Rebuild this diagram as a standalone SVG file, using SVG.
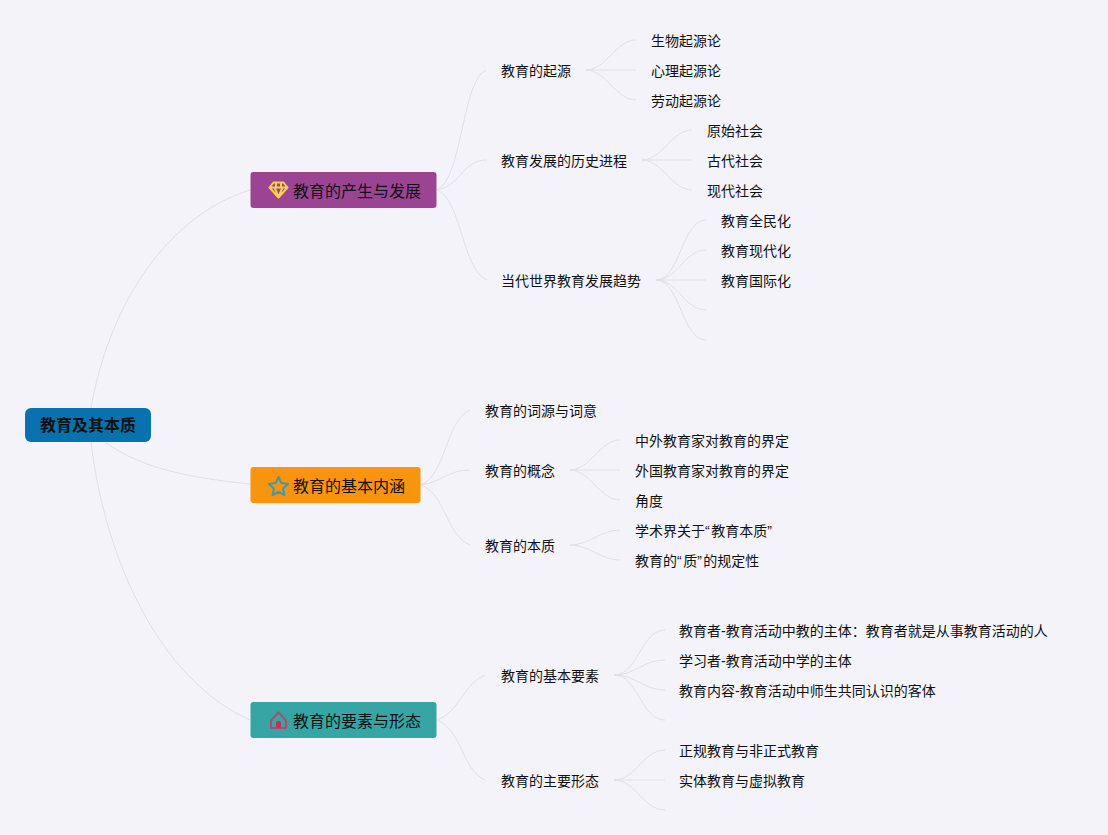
<svg xmlns="http://www.w3.org/2000/svg" width="1108" height="835" viewBox="0 0 1108 835">
<style>
text{font-family:"Liberation Sans","Noto Sans CJK SC",sans-serif;fill:#111}
.r{font-size:16px;font-weight:700}
.m{font-size:16px}
.s{font-size:14px}
.q{letter-spacing:1.500px}
.c path{fill:none;stroke:#e0e0e4;stroke-width:1}
</style>
<rect width="1108" height="835" fill="#f4f3fa"/>
<g id="connectors" class="c">
<path d="M91 408C110 300 170 215 250 190"/>
<path d="M105 442C140 468 190 478 250 484"/>
<path d="M91 442C105 560 160 680 250 720"/>
<path d="M437 190C462 180 462 80 486 70"/>
<path d="M437 190C462 185 462 160 487 160"/>
<path d="M437 190C462 200 462 270 487 280"/>
<path d="M586 70C606 70 616 40 636 40"/><path d="M586 70H636"/><path d="M586 70C606 70 616 100 636 100"/>
<path d="M642 160C662 160 672 130 692 130"/><path d="M642 160H692"/><path d="M642 160C662 160 672 190 692 190"/>
<path d="M656 280C680 280 682 220 706 220"/><path d="M656 280C678 280 684 250 706 250"/><path d="M656 280H706"/><path d="M656 280C678 280 684 310 706 310"/><path d="M656 280C680 280 682 340 706 340"/>
<path d="M421 485C446 475 446 420 470 410"/>
<path d="M421 485C442 482 448 470 470 470"/>
<path d="M421 485C446 495 446 535 470 545"/>
<path d="M570 470C590 470 600 440 620 440"/><path d="M570 470H620"/><path d="M570 470C590 470 600 500 620 500"/>
<path d="M570 545C590 545 600 530 620 530"/><path d="M570 545C590 545 600 560 620 560"/>
<path d="M437 720C460 712 462 685 485 675"/>
<path d="M437 720C462 730 462 770 485 780"/>
<path d="M614 675C638 675 641 630 665 630"/><path d="M614 675C636 675 643 660 665 660"/><path d="M614 675C636 675 643 690 665 690"/><path d="M614 675C638 675 641 720 665 720"/>
<path d="M614 780C636 780 643 750 665 750"/><path d="M614 780H665"/><path d="M614 780C636 780 643 810 665 810"/>
</g>
<g id="root"><rect x="25" y="408" width="126" height="34" rx="6" fill="#0872ae"/><text class="r" x="40" y="431">教育及其本质</text></g>
<g id="n1"><rect x="250.500" y="172" width="186" height="36" rx="3" fill="#9c4494"/>
<path d="M273.500 182.500H283.500L287.500 187.500L278.500 197.500L269.500 187.500ZM269.500 187.500H287.500M274.500 187.500L278.500 197L282.500 187.500M276 182.500V187.500M281 182.500V187.500" fill="none" stroke="#f9d14d" stroke-width="2" stroke-linejoin="round"/>
<text class="m" x="293" y="197">教育的产生与发展</text></g>
<g id="n2"><rect x="250.500" y="467" width="170" height="36" rx="3" fill="#f8940e"/>
<path d="M278.500 477L281.300 483L288 483.900L283.100 488.500L284.400 495L278.500 491.800L272.600 495L273.900 488.500L269 483.900L275.700 483Z" fill="none" stroke="#3f9ba8" stroke-width="2" stroke-linejoin="round"/>
<text class="m" x="293" y="492">教育的基本内涵</text></g>
<g id="n3"><rect x="250.500" y="702" width="186" height="36" rx="3" fill="#37a5a5"/>
<path d="M271 720.500L278.500 712.500L286 720.500V728H271Z" fill="none" stroke="#b2496f" stroke-width="2" stroke-linejoin="round"/><rect x="276" y="721" width="5" height="7" rx="2" fill="#d12a55"/>
<text class="m" x="293" y="727">教育的要素与形态</text></g>
<g id="n11"><text class="s" x="501" y="76">教育的起源</text></g>
<g id="n12"><text class="s" x="501" y="166">教育发展的历史进程</text></g>
<g id="n13"><text class="s" x="501" y="286">当代世界教育发展趋势</text></g>
<g id="n111"><text class="s" x="651" y="46">生物起源论</text></g>
<g id="n112"><text class="s" x="651" y="76">心理起源论</text></g>
<g id="n113"><text class="s" x="651" y="106">劳动起源论</text></g>
<g id="n121"><text class="s" x="707" y="136">原始社会</text></g>
<g id="n122"><text class="s" x="707" y="166">古代社会</text></g>
<g id="n123"><text class="s" x="707" y="196">现代社会</text></g>
<g id="n131"><text class="s" x="721" y="226">教育全民化</text></g>
<g id="n132"><text class="s" x="721" y="256">教育现代化</text></g>
<g id="n133"><text class="s" x="721" y="286">教育国际化</text></g>
<g id="n21"><text class="s" x="485" y="416">教育的词源与词意</text></g>
<g id="n22"><text class="s" x="485" y="476">教育的概念</text></g>
<g id="n23"><text class="s" x="485" y="551">教育的本质</text></g>
<g id="n221"><text class="s" x="635" y="446">中外教育家对教育的界定</text></g>
<g id="n222"><text class="s" x="635" y="476">外国教育家对教育的界定</text></g>
<g id="n223"><text class="s" x="635" y="506">角度</text></g>
<g id="n231"><text class="s" x="635" y="536">学术界关于<tspan class="q">“</tspan>教育本质<tspan class="q">”</tspan></text></g>
<g id="n232"><text class="s" x="635" y="566">教育的<tspan class="q">“</tspan>质<tspan class="q">”</tspan>的规定性</text></g>
<g id="n31"><text class="s" x="501" y="681">教育的基本要素</text></g>
<g id="n32"><text class="s" x="501" y="786">教育的主要形态</text></g>
<g id="n311"><text class="s" x="679" y="636">教育者-教育活动中教的主体：教育者就是从事教育活动的人</text></g>
<g id="n312"><text class="s" x="679" y="666">学习者-教育活动中学的主体</text></g>
<g id="n313"><text class="s" x="679" y="696">教育内容-教育活动中师生共同认识的客体</text></g>
<g id="n321"><text class="s" x="679" y="756">正规教育与非正式教育</text></g>
<g id="n322"><text class="s" x="679" y="786">实体教育与虚拟教育</text></g>
</svg>
